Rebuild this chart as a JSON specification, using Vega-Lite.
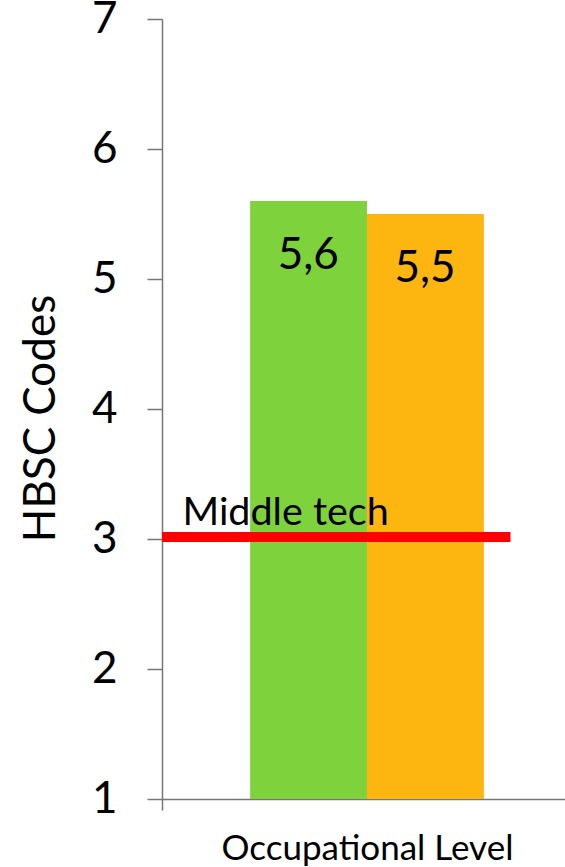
{
  "$schema": "https://vega.github.io/schema/vega-lite/v6.json",
  "autosize": {"type": "none"},
  "padding": {"left": 162, "top": 19, "right": 0, "bottom": 68},
  "width": 410,
  "height": 780,
  "background": "white",
  "datasets": {
    "bars": [
      {"group": "A", "value": 5.6, "start": 2.15, "end": 5.0},
      {"group": "B", "value": 5.5, "start": 5.0, "end": 7.85}
    ],
    "reference": [
      {"label": "Middle tech", "level": 3, "start": 0.0, "end": 8.5, "labelAt": 0.5}
    ]
  },
  "encoding": {
    "y": {
      "type": "quantitative",
      "scale": {"domain": [1, 7], "zero": false, "nice": false},
      "axis": {
        "title": "HBSC Codes",
        "values": [1, 2, 3, 4, 5, 6, 7],
        "grid": false,
        "tickSize": 15,
        "labelPadding": 30,
        "titlePadding": 28,
        "titleY": 399
      }
    }
  },
  "layer": [
    {
      "data": {"name": "bars"},
      "mark": {"type": "bar", "stroke": null},
      "encoding": {
        "x": {
          "field": "start",
          "type": "quantitative",
          "scale": {"domain": [0, 10], "nice": false},
          "axis": {
            "title": "Occupational Level",
            "values": [0],
            "labels": false,
            "grid": false,
            "tickSize": 11,
            "titlePadding": 21
          }
        },
        "x2": {"field": "end"},
        "y": {"field": "value", "type": "quantitative"},
        "y2": {"datum": 1},
        "color": {
          "field": "group",
          "type": "nominal",
          "scale": {"domain": ["A", "B"], "range": ["#7ED23C", "#FDB50F"]},
          "legend": null
        }
      }
    },
    {
      "data": {"name": "reference"},
      "mark": {"type": "rule", "color": "#FF0000", "strokeWidth": 10, "yOffset": -2},
      "encoding": {
        "x": {"field": "start", "type": "quantitative"},
        "x2": {"field": "end"},
        "y": {"field": "level", "type": "quantitative"}
      }
    },
    {
      "data": {"name": "reference"},
      "mark": {"type": "text", "align": "left", "baseline": "alphabetic", "dy": -14, "fontSize": 39.5, "color": "black"},
      "encoding": {
        "x": {"field": "labelAt", "type": "quantitative"},
        "y": {"field": "level", "type": "quantitative"},
        "text": {"field": "label"}
      }
    },
    {
      "data": {"name": "bars"},
      "mark": {"type": "text", "align": "center", "baseline": "alphabetic", "dx": 58, "dy": 68, "fontSize": 44, "color": "black"},
      "encoding": {
        "x": {"field": "start", "type": "quantitative"},
        "y": {"field": "value", "type": "quantitative"},
        "text": {"field": "value", "type": "quantitative", "format": ".1f"}
      }
    }
  ],
  "config": {
    "locale": {
      "number": {"decimal": ",", "thousands": ".", "grouping": [3], "currency": ["", " €"]}
    },
    "font": "Lato",
    "view": {"stroke": null},
    "axis": {
      "domainColor": "#767676",
      "domainWidth": 1.5,
      "tickColor": "#767676",
      "tickWidth": 1.5,
      "labelFont": "Lato",
      "labelFontSize": 44,
      "labelColor": "black",
      "titleFont": "Lato",
      "titleFontWeight": "normal",
      "titleColor": "black"
    },
    "axisY": {"titleFontSize": 44},
    "axisX": {"titleFontSize": 35},
    "text": {"font": "Lato"}
  }
}
